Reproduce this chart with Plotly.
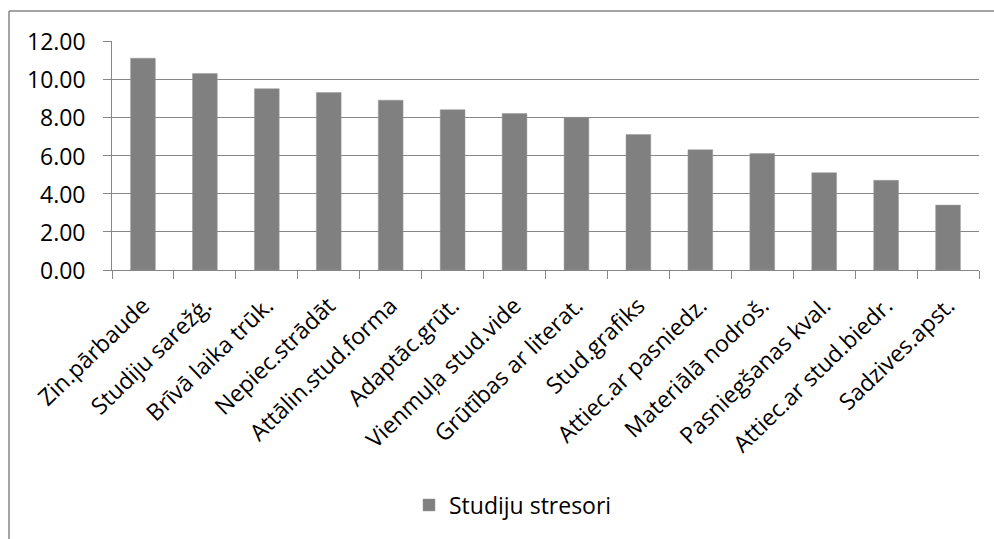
import plotly.graph_objects as go

categories = ["Zin.pārbaude", "Studiju sarežģ.", "Brīvā laika trūk.", "Nepiec.strādāt",
              "Attālin.stud.forma", "Adaptāc.grūt.", "Vienmuļa stud.vide", "Grūtības ar literat.",
              "Stud.grafiks", "Attiec.ar pasniedz.", "Materiālā nodroš.", "Pasniegšanas kval.",
              "Attiec.ar stud.biedr.", "Sadzives.apst."]
values = [11.1, 10.3, 9.5, 9.3, 8.9, 8.4, 8.2, 8.0, 7.1, 6.3, 6.1, 5.1, 4.7, 3.4]
series_name = "Studiju stresori"
y_ticks = [0, 2, 4, 6, 8, 10, 12]

W, H = 994, 539
L, R, T, B = 112, 15, 41, 269
pw, ph = W - L - R, H - T - B

def px_x(x):
    return (x - L) / pw

def px_y(y):
    return (H - B - y) / ph

FONT = "Open Sans"
GRID = "#868686"

fig = go.Figure()
fig.add_trace(go.Bar(
    x=categories, y=values, name=series_name,
    marker=dict(color="#808080", line=dict(color="#9a9a9a", width=0.5)),
    width=0.4, showlegend=True,
))

y_labels = [dict(xref="paper", yref="y", x=px_x(88), y=v, text=f"{v:.2f}",
                 xanchor="right", yanchor="middle", showarrow=False,
                 font=dict(family=FONT, size=23, color="black"))
            for v in y_ticks]

fig.update_layout(
    width=W, height=H,
    margin=dict(l=L, r=R, t=T, b=B, autoexpand=False),
    paper_bgcolor="white", plot_bgcolor="white",
    font=dict(family=FONT, size=22, color="black"),
    showlegend=True,
    legend=dict(orientation="h", x=px_x(513), xanchor="center", y=px_y(505), yanchor="middle",
                font=dict(family=FONT, size=23, color="black"), itemwidth=30,
                bgcolor="rgba(0,0,0,0)"),
    xaxis=dict(
        tickangle=-44, showgrid=False, showline=True, linecolor=GRID, linewidth=1.3,
        ticks="outside", tickson="boundaries", ticklen=8, tickcolor=GRID, tickwidth=1.3,
        ticklabelstandoff=12,
        tickfont=dict(family=FONT, size=23, color="black"), automargin=False,
    ),
    yaxis=dict(
        range=[0, 12], tickvals=y_ticks, showticklabels=False,
        showgrid=True, gridcolor=GRID, gridwidth=1.3, zeroline=False,
        showline=True, linecolor=GRID, linewidth=1.3,
        ticks="outside", ticklen=8, tickcolor=GRID, tickwidth=1.3,
        automargin=False,
    ),
    annotations=y_labels,
    shapes=[
        dict(type="line", xref="paper", yref="paper", x0=px_x(9), x1=px_x(W + 5),
             y0=px_y(11), y1=px_y(11), line=dict(color=GRID, width=1.5)),
        dict(type="line", xref="paper", yref="paper", x0=px_x(9), x1=px_x(9),
             y0=px_y(11), y1=px_y(H + 5), line=dict(color=GRID, width=1.5)),
    ],
)

fig.write_html("out.html")
